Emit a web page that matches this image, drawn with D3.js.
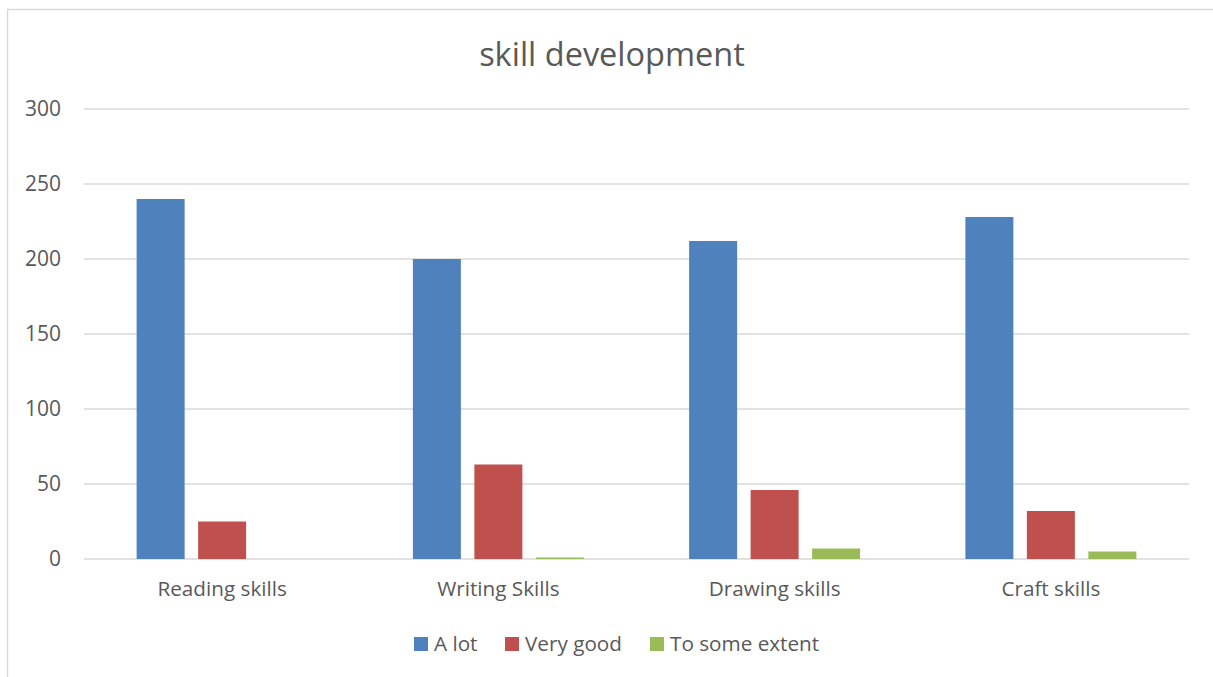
<!DOCTYPE html>
<html>
<head>
<meta charset="utf-8">
<script src="https://cdn.jsdelivr.net/npm/d3@7"></script>
<style>
html,body{margin:0;padding:0;background:#fff;}
svg{display:block;}
text{font-family:"Open Sans","Noto Sans",sans-serif;fill:#595959;}
</style>
</head>
<body>
<svg id="chart" width="1213" height="677"></svg>
<script>
const categories = ["Reading skills", "Writing Skills", "Drawing skills", "Craft skills"];
const seriesNames = ["A lot", "Very good", "To some extent"];
const aLot = [240, 200, 212, 228];
const veryGood = [25, 63, 46, 32];
const toSomeExtent = [0, 1, 7, 5];
const yTicks = [0, 50, 100, 150, 200, 250, 300];
const colors = ["#4F81BD", "#C0504D", "#9BBB59"];
const title = "skill development";

(function () {
const series = [aLot, veryGood, toSomeExtent];
const svg = d3.select("#chart");
const plotL = 84, plotR = 1189, plotT = 109, plotB = 559;

// outer border
svg.append("rect").attr("x", 7.5).attr("y", 9.5).attr("width", 1220).attr("height", 700)
  .attr("fill", "none").attr("stroke", "#D9D9D9").attr("stroke-width", 1.5);

const y = d3.scaleLinear().domain([0, 300]).range([plotB, plotT]);
const x0 = d3.scaleBand().domain(categories).range([plotL, plotR]).paddingInner(0).paddingOuter(0);

// gridlines
svg.append("g").selectAll("line").data(yTicks).join("line")
  .attr("x1", plotL).attr("x2", plotR)
  .attr("y1", d => y(d)).attr("y2", d => y(d))
  .attr("stroke", "#D9D9D9").attr("stroke-width", 1.5);

// y axis labels
const yAxis = d3.axisLeft(y).tickValues(yTicks).tickSize(0).tickPadding(0);
const ya = svg.append("g").attr("transform", `translate(61,0)`).call(yAxis);
ya.select(".domain").remove();
ya.selectAll("text").attr("font-size", 21).attr("fill", "#595959")
  .style("font-family", '"Open Sans","Noto Sans",sans-serif');

// bars
const barW = 48, step = 61.5;
const groupW = barW + step * 2;
categories.forEach((c, i) => {
  const start = x0(c) + (x0.bandwidth() - groupW) / 2;
  series.forEach((s, j) => {
    const v = s[i];
    svg.append("rect")
      .attr("x", start + j * step)
      .attr("y", y(v))
      .attr("width", barW)
      .attr("height", y(0) - y(v))
      .attr("fill", colors[j]);
  });
});

// x axis labels
const xAxis = d3.axisBottom(x0).tickSize(0).tickPadding(0);
const xa = svg.append("g").attr("transform", `translate(0,${plotB + 22})`).call(xAxis);
xa.select(".domain").remove();
xa.selectAll("text").attr("font-size", 20.7).attr("fill", "#595959").attr("dy", "0.71em")
  .style("font-family", '"Open Sans","Noto Sans",sans-serif');

// title
svg.append("text").attr("x", 612).attr("y", 66).attr("text-anchor", "middle")
  .attr("font-size", 32.5).text(title);

// legend
const legendX = [414, 505, 650];
seriesNames.forEach((n, j) => {
  svg.append("rect").attr("x", legendX[j]).attr("y", 637).attr("width", 14).attr("height", 14).attr("fill", colors[j]);
  svg.append("text").attr("x", legendX[j] + 20).attr("y", 651).attr("font-size", 20.7).text(n);
});
})();
</script>
</body>
</html>
